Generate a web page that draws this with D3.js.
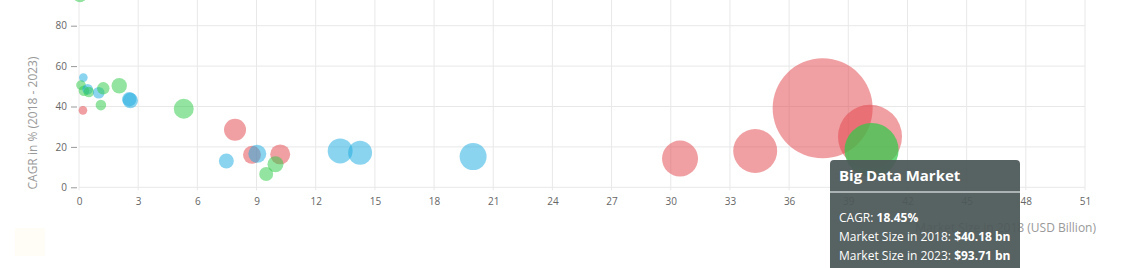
<!DOCTYPE html>
<html>
<head>
<meta charset="utf-8">
<script src="https://cdn.jsdelivr.net/npm/d3@7"></script>
<style>
  body { margin: 0; background: #fff; }
  svg { display: block; font-family: "Open Sans", sans-serif; }
</style>
</head>
<body>
<svg id="chart" width="1124" height="268"></svg>
<script>
// market size 2018 (USD bn), CAGR 2018-2023 (%), bubble size, colour group
let size2018 = [0.05, 0.22, 0.1, 0.25, 0.44, 0.5, 1.0, 1.23, 2.04, 2.55, 2.6, 1.11, 0.2, 5.31,
  7.91, 7.47, 8.77, 9.04, 10.2, 9.96, 9.49, 13.24, 14.25, 19.98, 30.47, 34.28, 37.7, 40.1, 40.18]
let cagr = [95, 54.3, 50.6, 47.8, 48.5, 47.2, 46.8, 49.0, 50.3, 43.6, 43.0, 40.7, 38.1, 38.9,
  28.5, 13.0, 16.1, 16.6, 16.3, 11.4, 6.6, 18.0, 17.1, 15.2, 14.2, 18.0, 39.1, 25.05, 18.45]
let bubble = [6, 2.4, 3, 3.6, 3.6, 3.6, 4.4, 5, 7.6, 6.6, 7.6, 3.6, 2.4, 12.8,
  15.5, 7.2, 10.4, 10.4, 12.8, 8.2, 6.3, 20, 18.5, 23.4, 41.6, 62, 321, 131.5, 93.71]
let group = ["g", "b", "g", "g", "b", "g", "b", "g", "g", "b", "b", "g", "r", "g",
  "r", "b", "r", "b", "r", "g", "g", "b", "b", "b", "r", "r", "r", "r", "g"]
let xTicks = d3.range(0, 52, 3)
let yTicks = [0, 20, 40, 60, 80]

let hoverIndex = 28
let hoverName = "Big Data Market"
let hoverSize2023 = 93.71

let colors = {r: "#e2474d", g: "#2fcb48", b: "#20ace0"}

let svg = d3.select("#chart")

let x = d3.scaleLinear().domain([0, 51]).range([79, 1085])
let y = d3.scaleLinear().domain([0, 100]).range([187.3, -14.7])
let r = d3.scaleSqrt().domain([0, 321]).range([0, 50])

// faint square bottom left
svg.append("rect")
    .attr("x", 15).attr("y", 228).attr("width", 30).attr("height", 28)
    .attr("fill", "#fffdf6")

// grid
svg.append("g").selectAll("line").data(xTicks).join("line")
    .attr("x1", d => x(d)).attr("x2", d => x(d))
    .attr("y1", y(100)).attr("y2", y(0) + 3)
    .attr("stroke", "#e8e8e8")
svg.append("g").selectAll("line").data(yTicks).join("line")
    .attr("x1", x(0)).attr("x2", x(51))
    .attr("y1", d => y(d)).attr("y2", d => y(d))
    .attr("stroke", "#e8e8e8")

// y axis
let yAxis = svg.append("g")
    .attr("transform", "translate(" + (x(0) - 2) + ",0)")
    .call(d3.axisLeft(y).tickValues(yTicks).tickSize(6).tickPadding(4))
yAxis.select(".domain").remove()
yAxis.selectAll(".tick line").attr("stroke", "#999")
yAxis.selectAll("text").attr("fill", "#666").attr("font-size", "10px")
    .attr("font-family", "Open Sans")

// x axis
let xAxis = svg.append("g")
    .attr("transform", "translate(0," + y(0) + ")")
    .call(d3.axisBottom(x).tickValues(xTicks).tickSize(0).tickPadding(11))
xAxis.select(".domain").remove()
xAxis.selectAll("text").attr("fill", "#666").attr("font-size", "10px")
    .attr("font-family", "Open Sans")

// axis titles
svg.append("text")
    .attr("transform", "translate(37,123) rotate(-90)")
    .attr("text-anchor", "middle")
    .attr("font-size", "12px")
    .attr("fill", "#999")
    .text("CAGR in % (2018 - 2023)")

svg.append("text")
    .attr("x", 1096).attr("y", 232)
    .attr("text-anchor", "end")
    .attr("font-size", "12px")
    .attr("fill", "#999")
    .text("Market Size in 2018 (USD Billion)")

// bubbles
let points = size2018.map((v, i) => ({x: v, y: cagr[i], z: bubble[i], g: group[i], i: i}))
svg.append("g").selectAll("circle").data(points).join("circle")
    .attr("cx", d => x(d.x))
    .attr("cy", d => y(d.y))
    .attr("r", d => r(d.z))
    .attr("fill", d => colors[d.g])
    .attr("fill-opacity", d => d.i === hoverIndex ? 0.72 : 0.52)

// tooltip
let hp = points[hoverIndex]
let tip = svg.append("g").attr("transform", "translate(830,160)")
tip.append("rect")
    .attr("width", 190).attr("height", 120).attr("rx", 4)
    .attr("fill", "#4c5858").attr("fill-opacity", 0.94)
tip.append("line")
    .attr("x1", 0).attr("x2", 190).attr("y1", 32).attr("y2", 32)
    .attr("stroke", "#c9cfcf").attr("stroke-width", 1.5)
tip.append("text")
    .attr("x", 9).attr("y", 21)
    .attr("font-size", "15px").attr("font-weight", "bold")
    .attr("fill", "#fff")
    .text(hoverName)

let tipLines = [
  ["CAGR: ", hp.y.toFixed(2) + "%"],
  ["Market Size in 2018: ", "$" + hp.x.toFixed(2) + " bn"],
  ["Market Size in 2023: ", "$" + hoverSize2023.toFixed(2) + " bn"]
]
tipLines.forEach((l, k) => {
  let t = tip.append("text")
      .attr("x", 9).attr("y", 62 + k * 19)
      .attr("font-size", "12px")
      .attr("fill", "#fff")
  t.append("tspan").text(l[0])
  t.append("tspan").attr("font-weight", "bold").text(l[1])
})
</script>
</body>
</html>
